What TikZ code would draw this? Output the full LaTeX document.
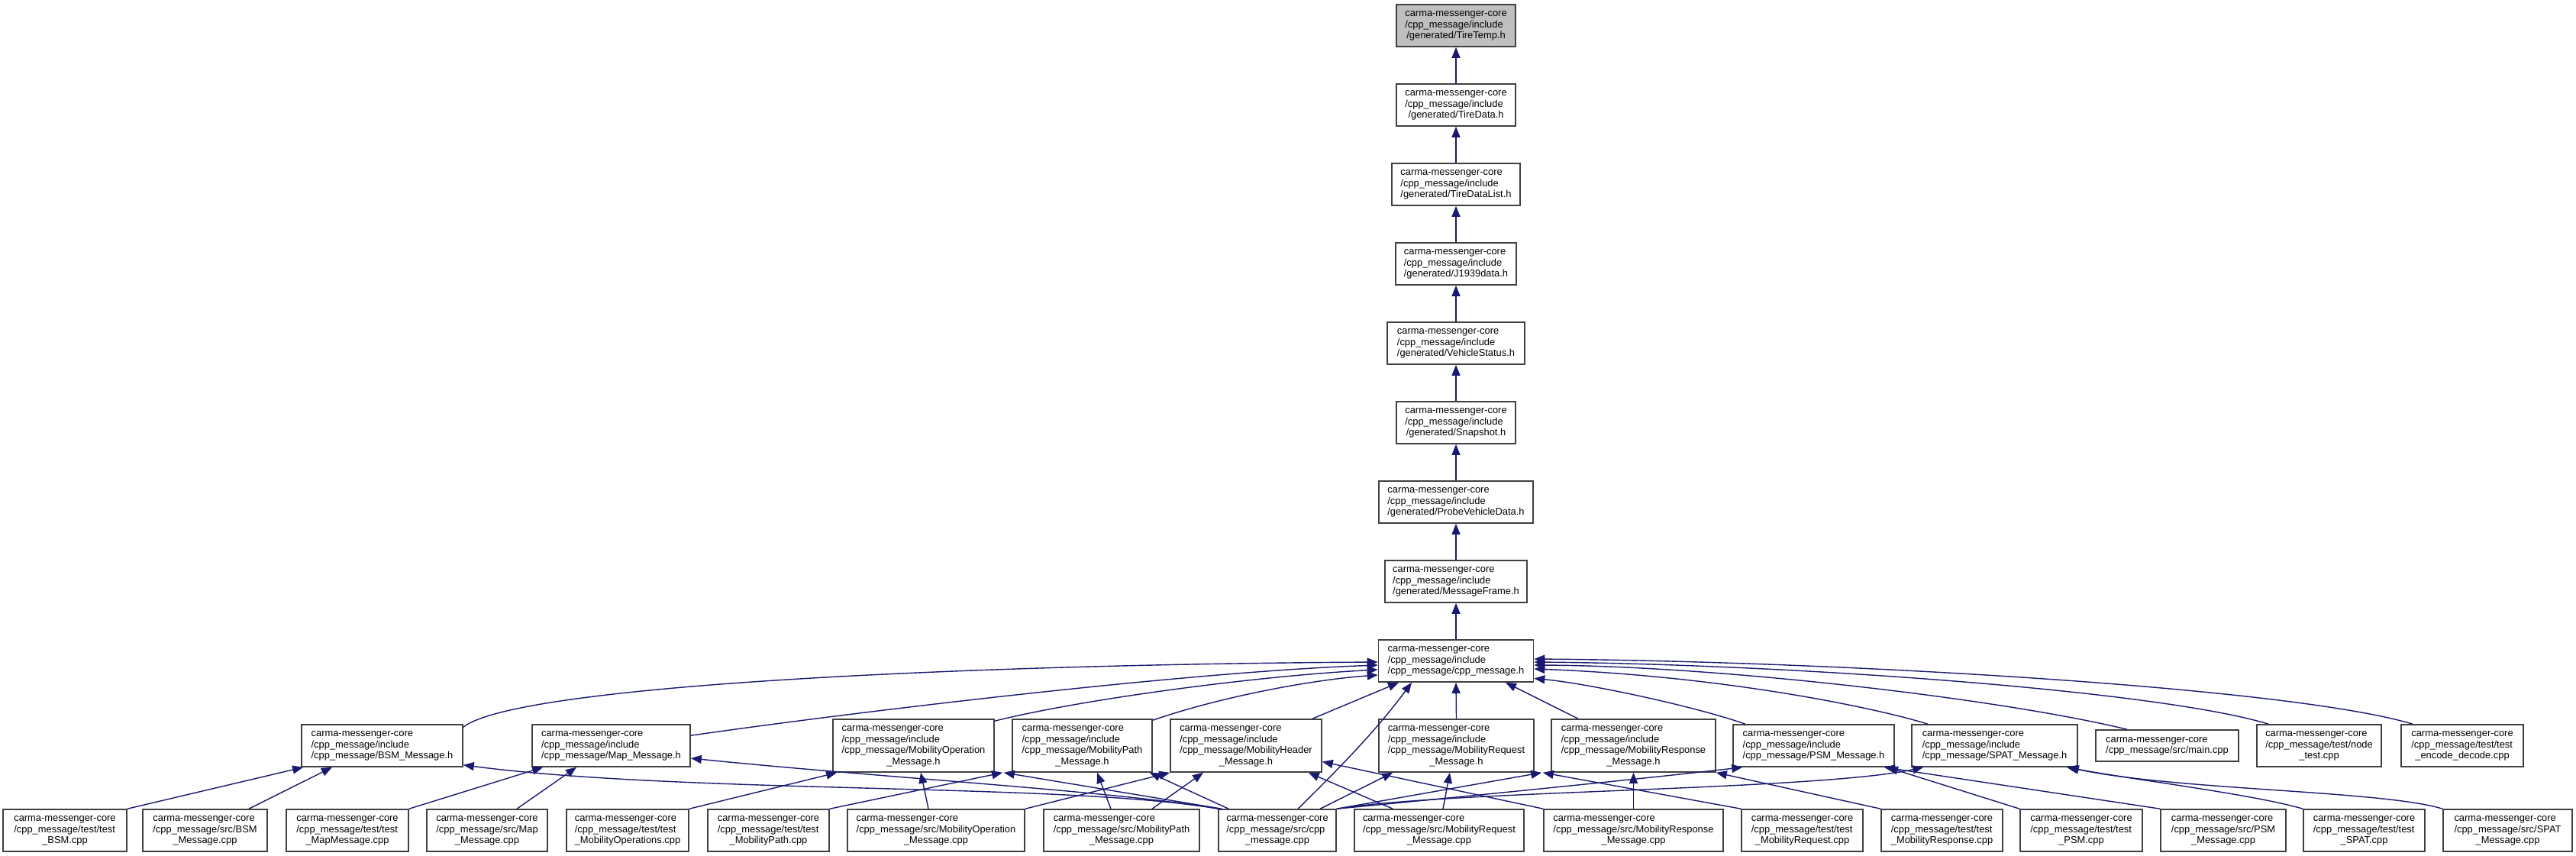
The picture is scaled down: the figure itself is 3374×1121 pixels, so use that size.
\documentclass[tikz,border=0pt]{standalone}
\usepackage{fontspec}
\setmainfont{Liberation Sans}
\usetikzlibrary{arrows.meta}
\definecolor{edgeblue}{HTML}{191970}
\definecolor{boxline}{HTML}{404040}
\definecolor{rootfill}{HTML}{BFBFBF}
\newcommand\Lb[2]{\begin{tabular}{@{}l@{}}#1\multicolumn{1}{@{}c@{}}{#2}\end{tabular}}
\newcommand\cmc{carma-messenger-core\\}
\newcommand\cinc{/cpp\_message/include\\}
\begin{document}
\begin{tikzpicture}[x=1pt,y=-1pt,
  filebox/.style={draw=boxline, line width=1.6pt, fill=white, inner sep=0pt,
    font=\fontsize{12.9pt}{14.5pt}\selectfont},
  rthree/.style={filebox, minimum height=55pt},
  rfour/.style={filebox, minimum height=69pt},
  rtwo/.style={filebox, minimum height=41pt},
  dep/.style={draw=edgeblue, line width=1.4pt, -{Triangle[length=14pt,width=11pt]}}]
\fill[white] (0,0) rectangle (3374,1121);
\useasboundingbox (0,0) rectangle (3374,1121);
% top chain
\node[rthree, fill=rootfill, minimum width=156pt] (tt) at (1907,33.5) {\Lb{\cmc\cinc}{/generated/TireTemp.h}};
\node[rthree, minimum width=156pt] (td) at (1907,137.5) {\Lb{\cmc\cinc}{/generated/TireData.h}};
\node[rthree, minimum width=168pt] (tdl) at (1907,241.5) {\Lb{\cmc\cinc}{/generated/TireDataList.h}};
\node[rthree, minimum width=158pt] (j19) at (1907,345.5) {\Lb{\cmc\cinc}{/generated/J1939data.h}};
\node[rthree, minimum width=180pt] (vs) at (1907,449.5) {\Lb{\cmc\cinc}{/generated/VehicleStatus.h}};
\node[rthree, minimum width=156pt] (snap) at (1907,553.5) {\Lb{\cmc\cinc}{/generated/Snapshot.h}};
\node[rthree, minimum width=202pt] (pvd) at (1907,657.5) {\Lb{\cmc\cinc}{/generated/ProbeVehicleData.h}};
\node[rthree, minimum width=186pt] (mf) at (1907,761.5) {\Lb{\cmc\cinc}{/generated/MessageFrame.h}};
\node[rthree, minimum width=203pt] (cpph) at (1907,865.5) {\Lb{\cmc\cinc}{/cpp\_message/cpp\_message.h}};
% header row
\node[rthree, minimum width=211pt] (bsmh) at (500.5,976.5) {\Lb{\cmc\cinc}{/cpp\_message/BSM\_Message.h}};
\node[rthree, minimum width=207pt] (maph) at (800.5,976.5) {\Lb{\cmc\cinc}{/cpp\_message/Map\_Message.h}};
\node[rfour, minimum width=211pt] (mobop) at (1196.5,976.5) {\Lb{\cmc\cinc/cpp\_message/MobilityOperation\\}{\_Message.h}};
\node[rfour, minimum width=183pt] (mobpath) at (1417.5,976.5) {\Lb{\cmc\cinc/cpp\_message/MobilityPath\\}{\_Message.h}};
\node[rfour, minimum width=198pt] (mobhdr) at (1632,976.5) {\Lb{\cmc\cinc/cpp\_message/MobilityHeader\\}{\_Message.h}};
\node[rfour, minimum width=203pt] (mobreq) at (1907.5,976.5) {\Lb{\cmc\cinc/cpp\_message/MobilityRequest\\}{\_Message.h}};
\node[rfour, minimum width=215pt] (mobresp) at (2139.5,976.5) {\Lb{\cmc\cinc/cpp\_message/MobilityResponse\\}{\_Message.h}};
\node[rthree, minimum width=211pt] (psmh) at (2375.5,976.5) {\Lb{\cmc\cinc}{/cpp\_message/PSM\_Message.h}};
\node[rthree, minimum width=217pt] (spath) at (2612.5,976.5) {\Lb{\cmc\cinc}{/cpp\_message/SPAT\_Message.h}};
\node[rtwo, minimum width=187pt] (mainc) at (2838.5,976.5) {\Lb{\cmc}{/cpp\_message/src/main.cpp}};
\node[rthree, minimum width=163pt] (nodet) at (3037.5,976.5) {\Lb{\cmc/cpp\_message/test/node\\}{\_test.cpp}};
\node[rthree, minimum width=160pt] (encdec) at (3225,976.5) {\Lb{\cmc/cpp\_message/test/test\\}{\_encode\_decode.cpp}};
% bottom row
\node[rthree, minimum width=162pt] (tbsm) at (85,1087.5) {\Lb{\cmc/cpp\_message/test/test\\}{\_BSM.cpp}};
\node[rthree, minimum width=163pt] (sbsm) at (268.5,1087.5) {\Lb{\cmc/cpp\_message/src/BSM\\}{\_Message.cpp}};
\node[rthree, minimum width=160pt] (tmap) at (455,1087.5) {\Lb{\cmc/cpp\_message/test/test\\}{\_MapMessage.cpp}};
\node[rthree, minimum width=158pt] (smap) at (638,1087.5) {\Lb{\cmc/cpp\_message/src/Map\\}{\_Message.cpp}};
\node[rthree, minimum width=160pt] (tmobop) at (822,1087.5) {\Lb{\cmc/cpp\_message/test/test\\}{\_MobilityOperations.cpp}};
\node[rthree, minimum width=159pt] (tmobpath) at (1006.5,1087.5) {\Lb{\cmc/cpp\_message/test/test\\}{\_MobilityPath.cpp}};
\node[rthree, minimum width=232pt] (smobop) at (1226,1087.5) {\Lb{\cmc/cpp\_message/src/MobilityOperation\\}{\_Message.cpp}};
\node[rthree, minimum width=204pt] (smobpath) at (1469,1087.5) {\Lb{\cmc/cpp\_message/src/MobilityPath\\}{\_Message.cpp}};
\node[rthree, minimum width=154pt] (scpp) at (1673,1087.5) {\Lb{\cmc/cpp\_message/src/cpp\\}{\_message.cpp}};
\node[rthree, minimum width=222pt] (smobreq) at (1885,1087.5) {\Lb{\cmc/cpp\_message/src/MobilityRequest\\}{\_Message.cpp}};
\node[rthree, minimum width=235pt] (smobresp) at (2139.5,1087.5) {\Lb{\cmc/cpp\_message/src/MobilityResponse\\}{\_Message.cpp}};
\node[rthree, minimum width=159pt] (tmobreq) at (2360.5,1087.5) {\Lb{\cmc/cpp\_message/test/test\\}{\_MobilityRequest.cpp}};
\node[rthree, minimum width=159pt] (tmobresp) at (2543.5,1087.5) {\Lb{\cmc/cpp\_message/test/test\\}{\_MobilityResponse.cpp}};
\node[rthree, minimum width=160pt] (tpsm) at (2726,1087.5) {\Lb{\cmc/cpp\_message/test/test\\}{\_PSM.cpp}};
\node[rthree, minimum width=164pt] (spsm) at (2912,1087.5) {\Lb{\cmc/cpp\_message/src/PSM\\}{\_Message.cpp}};
\node[rthree, minimum width=159pt] (tspat) at (3096.5,1087.5) {\Lb{\cmc/cpp\_message/test/test\\}{\_SPAT.cpp}};
\node[rthree, minimum width=169pt] (sspat) at (3284.5,1087.5) {\Lb{\cmc/cpp\_message/src/SPAT\\}{\_Message.cpp}};
% chain edges
\draw[dep] (td) -- (tt);
\draw[dep] (tdl) -- (td);
\draw[dep] (j19) -- (tdl);
\draw[dep] (vs) -- (j19);
\draw[dep] (snap) -- (vs);
\draw[dep] (pvd) -- (snap);
\draw[dep] (mf) -- (pvd);
\draw[dep] (cpph) -- (mf);
% header row to cpp_message.h
\draw[dep] ([yshift=-4pt]bsmh.north east) .. controls (680,895) and (1300,870) .. ([yshift=-1.5pt]cpph.west);
\draw[dep] ([yshift=-15pt]maph.north east) .. controls (1100,935) and (1550,880) .. ([yshift=-5.5pt]cpph.west);
\draw[dep] ([yshift=-3pt]mobop.north east) .. controls (1420,915) and (1650,885) .. ([yshift=-11.5pt]cpph.west);
\draw[dep] ([yshift=-2pt]mobpath.north east) .. controls (1600,912) and (1720,890) .. ([yshift=-18.5pt]cpph.west);
\draw[dep] ([xshift=87pt]mobhdr.north) -- ([xshift=-75pt]cpph.south);
\draw[dep] (mobreq.north) -- (cpph.south);
\draw[dep] ([xshift=-72.5pt]mobresp.north) -- ([xshift=65pt]cpph.south);
\draw[dep] ([xshift=-89.5pt]psmh.north) .. controls (2220,925) and (2080,895) .. ([yshift=-23pt]cpph.east);
\draw[dep] ([xshift=-87.5pt]spath.north) .. controls (2450,925) and (2250,885) .. ([yshift=-10.5pt]cpph.east);
\draw[dep] ([xshift=-52.5pt]mainc.north) .. controls (2620,915) and (2250,872) .. ([yshift=-5.5pt]cpph.east);
\draw[dep] ([xshift=-66.5pt]nodet.north) .. controls (2830,905) and (2350,870) .. ([yshift=-1.5pt]cpph.east);
\draw[dep] ([xshift=-65pt]encdec.north) .. controls (3000,900) and (2400,866) .. ([yshift=2.5pt]cpph.east);
\draw[dep] ([xshift=27pt]scpp.north) .. controls (1750,1010) and (1800,960) .. ([xshift=-58pt]cpph.south);
% bottom row to header row
\draw[dep] (tbsm.north east) -- ([xshift=3pt]bsmh.south west);
\draw[dep] ([xshift=57.5pt]sbsm.north) -- ([xshift=-65.5pt]bsmh.south);
\draw[dep] (scpp.north west) .. controls (1400,1025) and (900,1040) .. ([yshift=3pt]bsmh.south east);
\draw[dep] (tmap.north east) -- ([xshift=15pt]maph.south west);
\draw[dep] ([xshift=39pt]smap.north) -- ([xshift=-45.5pt]maph.south);
\draw[dep] ([xshift=3pt]scpp.north west) .. controls (1450,1035) and (1150,1018) .. ([yshift=-16.5pt]maph.east);
\draw[dep] (tmobop.north east) -- ([xshift=6pt]mobop.south west);
\draw[dep] ([xshift=-10pt]smobop.north) -- ([xshift=9.5pt]mobop.south);
\draw[dep] ([xshift=5pt]scpp.north west) -- ([xshift=12pt]mobop.south east);
\draw[dep] (tmobpath.north east) -- ([xshift=-12pt]mobpath.south west);
\draw[dep] ([xshift=-14pt]smobpath.north) -- ([xshift=19.5pt]mobpath.south);
\draw[dep] ([xshift=14pt]scpp.north west) -- ([xshift=-4pt]mobpath.south east);
\draw[dep] (smobop.north east) -- (mobhdr.south west);
\draw[dep] ([xshift=40pt]smobpath.north) -- ([xshift=-56pt]mobhdr.south);
\draw[dep] ([xshift=51pt]smobreq.north west) -- ([xshift=-18pt]mobhdr.south east);
\draw[dep] (smobresp.north west) -- ([yshift=-21pt]mobhdr.east);
\draw[dep] ([xshift=56pt]scpp.north) -- ([xshift=19pt]mobreq.south west);
\draw[dep] ([xshift=5pt]smobreq.north) -- ([xshift=-8.5pt]mobreq.south);
\draw[dep] (tmobreq.north west) -- ([xshift=11pt]mobreq.south east);
\draw[dep] (scpp.north east) -- ([xshift=-12pt]mobresp.south west);
\draw[dep] (smobresp.north) -- (mobresp.south);
\draw[dep] (tmobresp.north west) -- (mobresp.south east);
\draw[dep] (scpp.north east) .. controls (1950,1040) and (2150,1020) .. ([xshift=13pt]psmh.south west);
\draw[dep] (scpp.north east) .. controls (1900,1035) and (2380,1035) .. ([xshift=16pt]spath.south west);
\draw[dep] (tpsm.north west) -- ([xshift=-10pt]psmh.south east);
\draw[dep] (spsm.north west) -- ([xshift=-14pt]psmh.south east);
\draw[dep] (tspat.north west) .. controls (2950,1040) and (2800,1022) .. ([xshift=-15pt]spath.south east);
\draw[dep] (sspat.north west) .. controls (3120,1035) and (2850,1035) .. ([xshift=-13pt]spath.south east);
\end{tikzpicture}
\end{document}
